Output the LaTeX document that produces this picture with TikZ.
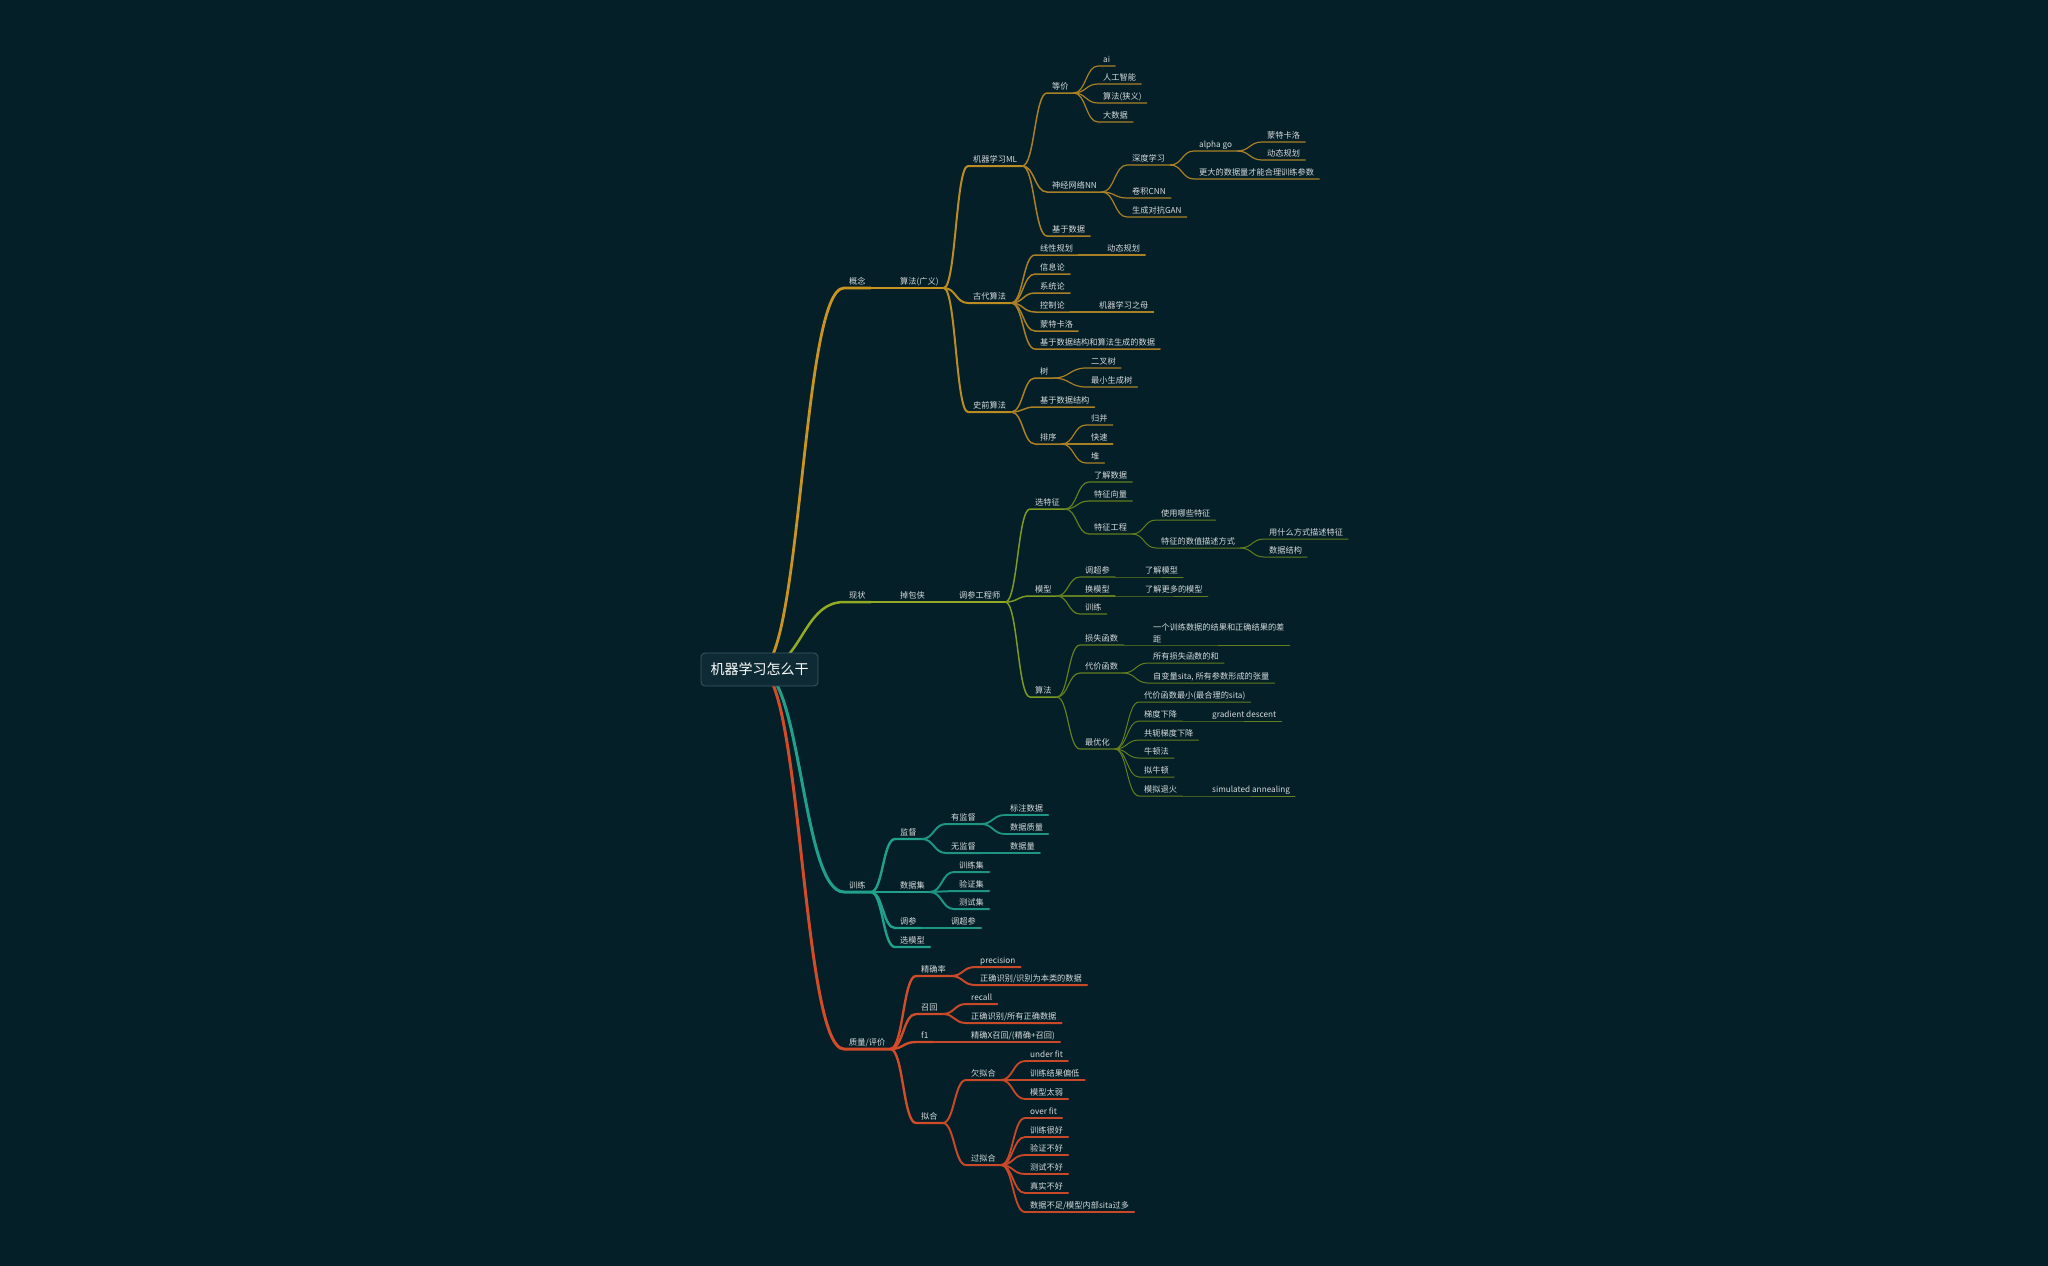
\documentclass[tikz,border=0pt]{standalone}
\usepackage{fontspec}
\setmainfont{Noto Sans CJK SC}
\usetikzlibrary{calc,graphs,backgrounds}

\definecolor{bgcol}{HTML}{041F28}
\definecolor{txt}{HTML}{D6DBDC}
\definecolor{rootfill}{HTML}{0E2B35}
\definecolor{rootline}{HTML}{3C5862}
\definecolor{gold1}{HTML}{C99520}
\definecolor{gold2}{HTML}{BB8C22}
\definecolor{gold3}{HTML}{A98026}
\definecolor{green1}{HTML}{94AA22}
\definecolor{green2}{HTML}{7E9A20}
\definecolor{green3}{HTML}{627E1E}
\definecolor{teal1}{HTML}{21A08C}
\definecolor{teal2}{HTML}{1E9482}
\definecolor{red1}{HTML}{D24C28}
\definecolor{red2}{HTML}{C84828}

\begin{document}
\begin{tikzpicture}
	% Styles
	[
	x=1pt, y=-1pt,
	rootnode/.style={rectangle, rounded corners=4pt, minimum width=117pt, minimum height=33pt, draw=rootline, line width=0.8pt, fill=rootfill, text=white, font=\fontsize{14}{16}\selectfont},
	topic/.style={anchor=south west, inner xsep=5pt, inner ysep=1.5pt, text height=7pt, text depth=1.6pt, text=txt, font=\fontsize{8.2}{12}\selectfont},
	wraptopic/.style={anchor=south west, inner xsep=5pt, inner ysep=1.5pt, align=left, text=txt, font=\fontsize{8.2}{12}\selectfont},
	curvelink/.style={line cap=round, to path={let \p1=(\tikztostart.south east), \p2=(\tikztotarget.south west) in (\p1) .. controls (0.5*\x1+0.5*\x2,\y1) and (0.5*\x1+0.5*\x2,\y2) .. (\p2) -- (\tikztotarget.south east)}},
	rootcurve/.style={line cap=round, line width=3pt, to path={let \p1=(\tikztostart.center), \p2=(\tikztotarget.south west) in (\p1) .. controls (0.5*\x1+0.5*\x2,\y1) and (0.5*\x1+0.5*\x2,\y2) .. (\p2) -- (\tikztotarget.south east)}},
	gA/.style={draw=gold1, line width=2.8pt},
	gB/.style={draw=gold2, line width=2pt},
	gC/.style={draw=gold3, line width=1.5pt},
	gD/.style={draw=gold3, line width=1.2pt},
	grA/.style={draw=green1, line width=2.5pt},
	grB/.style={draw=green2, line width=1.5pt},
	grC/.style={draw=green3, line width=1.2pt},
	grD/.style={draw=green3, line width=1pt},
	tlA/.style={draw=teal1, line width=3pt},
	tlB/.style={draw=teal1, line width=2.4pt},
	tlC/.style={draw=teal2, line width=2pt},
	tlD/.style={draw=teal2, line width=1.8pt},
	rdA/.style={draw=red1, line width=3pt},
	rdB/.style={draw=red1, line width=2.4pt},
	rdC/.style={draw=red2, line width=2pt},
	rdD/.style={draw=red2, line width=1.8pt}
	]

	\useasboundingbox (0,0) rectangle (2048,1266);

	% Nodes
	\node at (759.5,669.5)	(root)	[rootnode] {机器学习怎么干};

	% 概念
	\node at (844,288)	(gainian)	[topic] {概念};
	\node at (895,288)	(guangyi)	[topic] {算法(广义)};
	\node at (968,166)	(ml)	[topic] {机器学习ML};
	\node at (968,303)	(gudai)	[topic] {古代算法};
	\node at (968,412)	(shiqian)	[topic] {史前算法};
	\node at (1047,93)	(dengjia)	[topic] {等价};
	\node at (1047,192)	(nn)	[topic] {神经网络NN};
	\node at (1047,236)	(jiyushuju)	[topic] {基于数据};
	\node at (1098,66)	(ai)	[topic] {ai};
	\node at (1098,84)	(rgzn)	[topic] {人工智能};
	\node at (1098,103)	(xiayi)	[topic] {算法(狭义)};
	\node at (1098,122)	(dsj)	[topic] {大数据};
	\node at (1127,165)	(sdxx)	[topic] {深度学习};
	\node at (1127,198)	(cnn)	[topic] {卷积CNN};
	\node at (1127,217)	(gan)	[topic] {生成对抗GAN};
	\node at (1194,151)	(alphago)	[topic] {alpha go};
	\node at (1194,179)	(gengda)	[topic] {更大的数据量才能合理训练参数};
	\node at (1262,142)	(mtkl)	[topic] {蒙特卡洛};
	\node at (1262,160)	(dtgh)	[topic] {动态规划};
	\node at (1035,255)	(xxgh)	[topic] {线性规划};
	\node at (1102,255)	(dtghb)	[topic] {动态规划};
	\node at (1035,274)	(xxl)	[topic] {信息论};
	\node at (1035,293)	(xtl)	[topic] {系统论};
	\node at (1035,312)	(kzl)	[topic] {控制论};
	\node at (1094,312)	(jqxxzm)	[topic] {机器学习之母};
	\node at (1035,331)	(mtklb)	[topic] {蒙特卡洛};
	\node at (1035,349)	(jysjsc)	[topic] {基于数据结构和算法生成的数据};
	\node at (1035,378)	(shu)	[topic] {树};
	\node at (1086,368)	(ecs)	[topic] {二叉树};
	\node at (1086,387)	(zxscs)	[topic] {最小生成树};
	\node at (1035,407)	(jysjjg)	[topic] {基于数据结构};
	\node at (1035,444)	(paixu)	[topic] {排序};
	\node at (1086,425)	(guibing)	[topic] {归并};
	\node at (1086,444)	(kuaisu)	[topic] {快速};
	\node at (1086,463)	(dui)	[topic] {堆};

	% 现状
	\node at (844,602)	(xianzhuang)	[topic] {现状};
	\node at (895,602)	(diaobaoxia)	[topic] {掉包侠};
	\node at (954,602)	(tcgcs)	[topic] {调参工程师};
	\node at (1030,509)	(xtz)	[topic] {选特征};
	\node at (1030,596)	(moxing)	[topic] {模型};
	\node at (1030,697)	(suanfa)	[topic] {算法};
	\node at (1089,482)	(ljsj)	[topic] {了解数据};
	\node at (1089,501)	(tzxl)	[topic] {特征向量};
	\node at (1089,534)	(tzgc)	[topic] {特征工程};
	\node at (1156,520)	(syxtz)	[topic] {使用哪些特征};
	\node at (1156,548)	(tzdsz)	[topic] {特征的数值描述方式};
	\node at (1264,539)	(ysmfs)	[topic] {用什么方式描述特征};
	\node at (1264,557)	(sjjg)	[topic] {数据结构};
	\node at (1080,577)	(dcc)	[topic] {调超参};
	\node at (1140,577)	(ljmx)	[topic] {了解模型};
	\node at (1080,596)	(hmx)	[topic] {换模型};
	\node at (1140,596)	(ljgd)	[topic] {了解更多的模型};
	\node at (1080,614)	(xlb)	[topic] {训练};
	\node at (1080,645)	(sshs)	[topic] {损失函数};
	\node at (1148,645)	(chaju)	[wraptopic] {一个训练数据的结果和正确结果的差\\距};
	\node at (1080,673)	(djhs)	[topic] {代价函数};
	\node at (1148,663)	(sysshs)	[topic] {所有损失函数的和};
	\node at (1148,683)	(zbl)	[topic] {自变量sita, 所有参数形成的张量};
	\node at (1080,749)	(zyh)	[topic] {最优化};
	\node at (1139,702)	(djzx)	[topic] {代价函数最小(最合理的sita)};
	\node at (1139,721)	(tdxj)	[topic] {梯度下降};
	\node at (1207,721)	(gd)	[topic] {gradient descent};
	\node at (1139,740)	(egtd)	[topic] {共轭梯度下降};
	\node at (1139,758)	(ndf)	[topic] {牛顿法};
	\node at (1139,777)	(nnd)	[topic] {拟牛顿};
	\node at (1139,796)	(mnth)	[topic] {模拟退火};
	\node at (1207,796)	(sa)	[topic] {simulated annealing};

	% 训练
	\node at (844,892)	(xunlian)	[topic] {训练};
	\node at (895,839)	(jiandu)	[topic] {监督};
	\node at (946,824)	(yjd)	[topic] {有监督};
	\node at (1005,815)	(bzsj)	[topic] {标注数据};
	\node at (1005,834)	(sjzl)	[topic] {数据质量};
	\node at (946,853)	(wjd)	[topic] {无监督};
	\node at (1005,853)	(sjl)	[topic] {数据量};
	\node at (895,892)	(sjj)	[topic] {数据集};
	\node at (954,872)	(xlj)	[topic] {训练集};
	\node at (954,891)	(yzj)	[topic] {验证集};
	\node at (954,909)	(csj)	[topic] {测试集};
	\node at (895,928)	(tiaocan)	[topic] {调参};
	\node at (946,928)	(tcc)	[topic] {调超参};
	\node at (895,947)	(xmx)	[topic] {选模型};

	% 质量/评价
	\node at (844,1049)	(zhiliang)	[topic] {质量/评价};
	\node at (916,976)	(jql)	[topic] {精确率};
	\node at (975,967)	(prec)	[topic] {precision};
	\node at (975,985)	(zqsba)	[topic] {正确识别/识别为本类的数据};
	\node at (916,1014)	(zhaohui)	[topic] {召回};
	\node at (966,1004)	(recall)	[topic] {recall};
	\node at (966,1023)	(zqsbb)	[topic] {正确识别/所有正确数据};
	\node at (916,1042)	(fone)	[topic] {f1};
	\node at (966,1042)	(jqxzh)	[topic] {精确X召回/(精确+召回)};
	\node at (916,1123)	(nihe)	[topic] {拟合};
	\node at (966,1080)	(qnh)	[topic] {欠拟合};
	\node at (1025,1061)	(underfit)	[topic] {under fit};
	\node at (1025,1080)	(xljg)	[topic] {训练结果偏低};
	\node at (1025,1099)	(mxtr)	[topic] {模型太弱};
	\node at (966,1165)	(gnh)	[topic] {过拟合};
	\node at (1025,1118)	(overfit)	[topic] {over fit};
	\node at (1025,1137)	(xlhh)	[topic] {训练很好};
	\node at (1025,1155)	(yzbh)	[topic] {验证不好};
	\node at (1025,1174)	(csbh)	[topic] {测试不好};
	\node at (1025,1193)	(zsbh)	[topic] {真实不好};
	\node at (1025,1212)	(sjbz)	[topic] {数据不足/模型内部sita过多};

	% Connections
	\begin{scope}[on background layer]
	\fill[bgcol] (0,0) rectangle (2048,1266);
	\graph[use existing nodes, edges={rootcurve}] {
		root --[gA] gainian;
		root --[grA] xianzhuang;
		root --[tlA] xunlian;
		root --[rdA] zhiliang;
	};
	\graph[use existing nodes, edges={curvelink, gA}] {
		gainian -- guangyi;
	};
	\graph[use existing nodes, edges={curvelink, gB}] {
		guangyi -- {ml, gudai, shiqian};
	};
	\graph[use existing nodes, edges={curvelink, gC}] {
		ml -- {dengjia, nn, jiyushuju};
		gudai -- {xxgh, xxl, xtl, kzl, mtklb, jysjsc};
		shiqian -- {shu, jysjjg, paixu};
	};
	\graph[use existing nodes, edges={curvelink, gD}] {
		dengjia -- {ai, rgzn, xiayi, dsj};
		nn -- {sdxx, cnn, gan};
		sdxx -- {alphago, gengda};
		alphago -- {mtkl, dtgh};
		xxgh -- dtghb;
		kzl -- jqxxzm;
		shu -- {ecs, zxscs};
		paixu -- {guibing, kuaisu, dui};
	};
	\graph[use existing nodes, edges={curvelink, grA}] {
		xianzhuang -- diaobaoxia -- tcgcs;
	};
	\graph[use existing nodes, edges={curvelink, grB}] {
		tcgcs -- {xtz, moxing, suanfa};
	};
	\graph[use existing nodes, edges={curvelink, grC}] {
		xtz -- {ljsj, tzxl, tzgc};
		moxing -- {dcc, hmx, xlb};
		suanfa -- {sshs, djhs, zyh};
	};
	\graph[use existing nodes, edges={curvelink, grD}] {
		tzgc -- {syxtz, tzdsz};
		tzdsz -- {ysmfs, sjjg};
		dcc -- ljmx;
		hmx -- ljgd;
		sshs -- chaju;
		djhs -- {sysshs, zbl};
		zyh -- {djzx, tdxj, egtd, ndf, nnd, mnth};
		tdxj -- gd;
		mnth -- sa;
	};
	\graph[use existing nodes, edges={curvelink, tlB}] {
		xunlian -- {jiandu, sjj, tiaocan, xmx};
	};
	\graph[use existing nodes, edges={curvelink, tlC}] {
		jiandu -- {yjd, wjd};
		sjj -- {xlj, yzj, csj};
		tiaocan -- tcc;
	};
	\graph[use existing nodes, edges={curvelink, tlD}] {
		yjd -- {bzsj, sjzl};
		wjd -- sjl;
	};
	\graph[use existing nodes, edges={curvelink, rdB}] {
		zhiliang -- {jql, zhaohui, fone, nihe};
	};
	\graph[use existing nodes, edges={curvelink, rdC}] {
		jql -- {prec, zqsba};
		zhaohui -- {recall, zqsbb};
		fone -- jqxzh;
		nihe -- {qnh, gnh};
	};
	\graph[use existing nodes, edges={curvelink, rdD}] {
		qnh -- {underfit, xljg, mxtr};
		gnh -- {overfit, xlhh, yzbh, csbh, zsbh, sjbz};
	};
	\end{scope}

\end{tikzpicture}
\end{document}
